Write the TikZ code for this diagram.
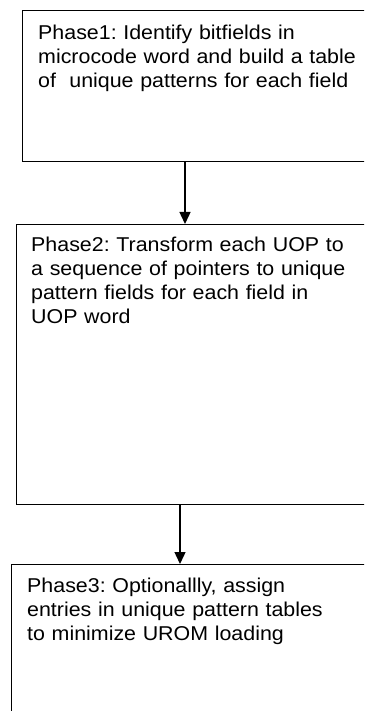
\documentclass[tikz,border=0pt]{standalone}
\usepackage{fontspec}
\setmainfont[FakeStretch=1.07]{Liberation Sans}
\usetikzlibrary{arrows.meta}
\frenchspacing
\begin{document}
\begin{tikzpicture}[x=1pt,y=-1pt,
  phasebox/.style={draw=black, line width=1pt, anchor=north west, inner sep=0pt},
  phasetext/.style={anchor=north west, inner sep=0pt, align=left, text width=345pt,
    font=\fontsize{20}{24}\selectfont},
  flow/.style={line width=1.4pt, -{Triangle[width=11pt,length=12pt]}}]
\useasboundingbox (0,0) rectangle (364,711);
\fill[white] (0,0) rectangle (364,711);
\clip (0,0) rectangle (364,711);
\node[phasebox, minimum width=380pt, minimum height=151pt] (p1) at (22,10) {};
\node[phasebox, minimum width=380pt, minimum height=280pt] (p2) at (16,224) {};
\node[phasebox, minimum width=380pt, minimum height=180pt] (p3) at (11,564) {};
\node[phasetext] (t1) at ([xshift=16pt,yshift=-13.5pt]p1.north west)
  {\rule{0pt}{16pt}Phase1: Identify bitfields in\\microcode word and build a table\\of\ \ unique patterns for each field};
\node[phasetext] (t2) at ([xshift=15pt,yshift=-11pt]p2.north west)
  {\rule{0pt}{16pt}Phase2: Transform each UOP to\\a sequence of pointers to unique\\pattern fields for each field in\\UOP word};
\node[phasetext] (t3) at ([xshift=16pt,yshift=-12pt]p3.north west)
  {\rule{0pt}{16pt}Phase3: Optionallly, assign\\entries in unique pattern tables\\to minimize UROM loading};
\coordinate (a1) at (185,0);
\coordinate (a2) at (180,0);
\draw[flow] (a1 |- p1.south) -- (a1 |- p2.north);
\draw[flow] (a2 |- p2.south) -- (a2 |- p3.north);
\end{tikzpicture}
\end{document}
